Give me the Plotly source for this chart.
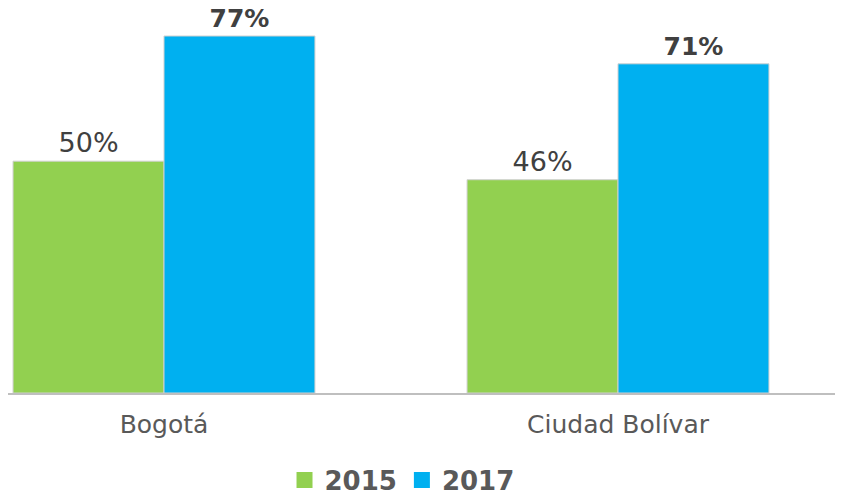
import plotly.graph_objects as go

categories = ["Bogotá", "Ciudad Bolívar"]
values_2015 = [50, 46]
values_2017 = [77, 71]
labels_2015 = ["50%", "46%"]
labels_2017 = ["<b>77%</b>", "<b>71%</b>"]
series_names = ["2015", "2017"]

GREEN = "#92D050"
BLUE = "#00B0F0"
FONT = "DejaVu Sans"

fig = go.Figure()
fig.add_trace(go.Bar(
    x=categories, y=values_2015, name=series_names[0], showlegend=False,
    marker=dict(color=GREEN, line=dict(color="#D0D0D0", width=1)),
    text=labels_2015, textposition="outside",
    textfont=dict(family=FONT, size=27, color="#404040"),
    cliponaxis=False,
))
fig.add_trace(go.Bar(
    x=categories, y=values_2017, name=series_names[1], showlegend=False,
    marker=dict(color=BLUE, line=dict(color="#D0D0D0", width=1)),
    text=labels_2017, textposition="outside",
    textfont=dict(family=FONT, size=25, color="#404040"),
    cliponaxis=False,
))
# legend entries with larger square swatches
for name, color in zip(series_names, [GREEN, BLUE]):
    fig.add_trace(go.Scatter(
        x=[None], y=[None], mode="markers", name="<b>" + name + "</b>",
        marker=dict(symbol="square", size=16, color=color),
        showlegend=True, hoverinfo="skip",
    ))

fig.update_layout(
    width=843, height=510,
    margin=dict(l=0, r=0, t=0, b=125),
    paper_bgcolor="white", plot_bgcolor="white",
    barmode="group", bargap=0.335, bargroupgap=0,
    font=dict(family=FONT, color="#595959"),
    showlegend=True,
    legend=dict(
        orientation="h", x=0.4674, xanchor="center", y=-0.226, yanchor="middle",
        font=dict(family=FONT, size=26, color="#595959"),
        itemwidth=30, tracegroupgap=0,
    ),
)
fig.update_xaxes(
    range=[-0.3436, 1.5132], showgrid=False, zeroline=False,
    showline=True, linecolor="#BFBFBF", linewidth=2,
    ticks="", tickfont=dict(family=FONT, size=25, color="#595959"),
    ticklabelstandoff=8,
)
fig.update_yaxes(range=[0, 83.04], visible=False)

fig.write_html("out.html")
